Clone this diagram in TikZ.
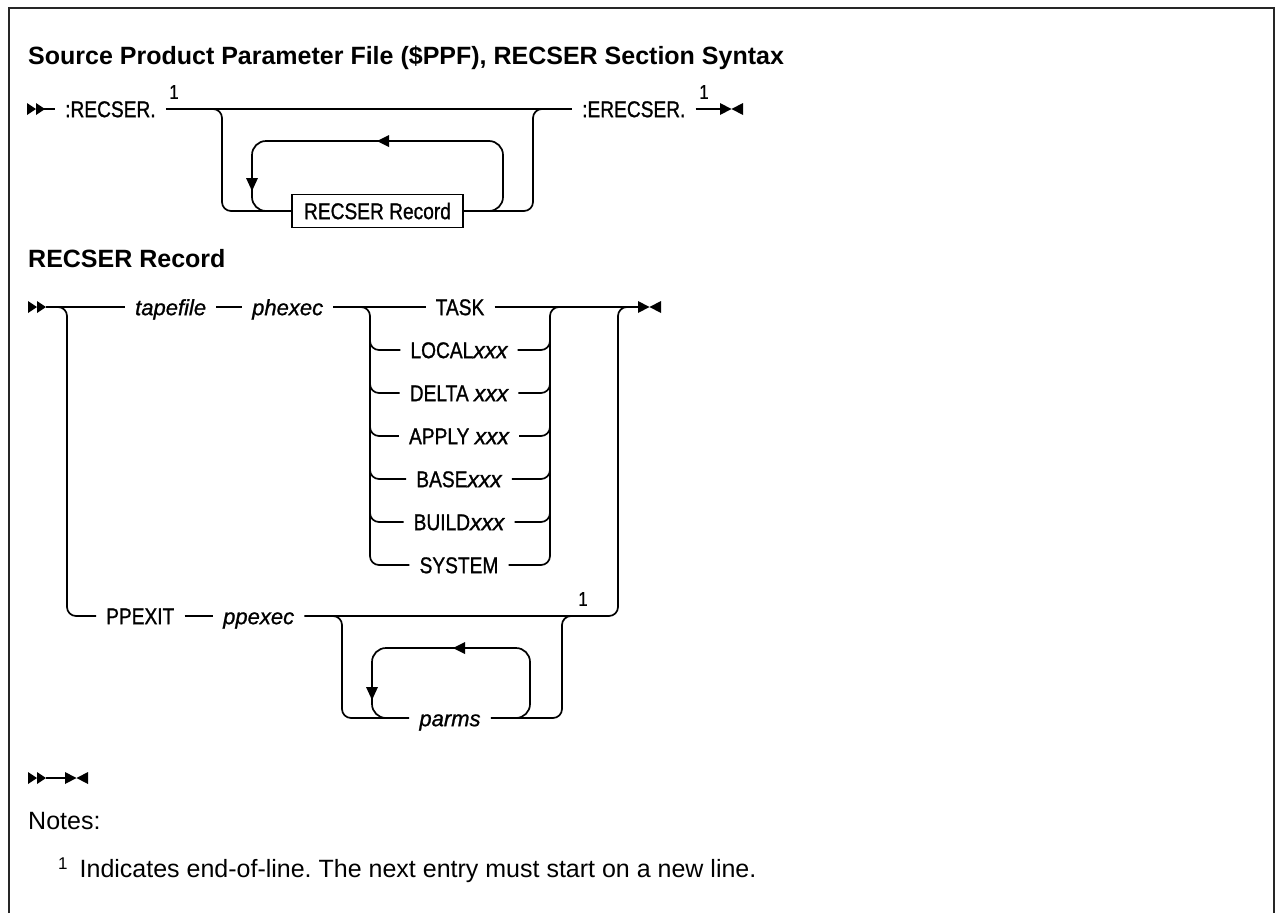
\documentclass[tikz,border=0pt]{standalone}
\usepackage{fontspec}
\setmainfont{Liberation Sans}
\newfontfamily\condfont[FakeStretch=0.84,FakeBold=1]{Liberation Sans}
\newfontfamily\itfont[FakeBold=1]{Liberation Sans Italic}
\newcommand\varit[1]{{\itfont #1}}
\frenchspacing
\begin{document}
\begin{tikzpicture}[x=1pt,y=-1pt,
  rr/.style={line width=1.7pt, rounded corners=9pt},
  loopline/.style={line width=1.7pt, rounded corners=14pt},
  kw/.style={font=\condfont\fontsize{22.8}{26}\selectfont, inner xsep=10pt, inner ysep=0pt, text height=16.3pt, text depth=0pt, anchor=west},
  vr/.style={font=\itfont\fontsize{22}{26}\selectfont, inner xsep=10pt, inner ysep=0pt, text height=16.3pt, text depth=0pt, anchor=west},
  sup/.style={font=\condfont\fontsize{20}{22}\selectfont, inner sep=0pt},
  headfont/.style={font=\bfseries\fontsize{25}{30}\selectfont, inner sep=0pt, anchor=base west},
  txt/.style={font=\fontsize{25}{30}\selectfont, inner sep=0pt, anchor=base west},
  startmark/.pic={\fill (0,-6) -- (9,0) -- (0,6) -- cycle; \fill (9,-6) -- (18,0) -- (9,6) -- cycle;},
  endmark/.pic={\fill (0,-6) -- (11.5,0) -- (0,6) -- cycle; \fill (23,-6) -- (11.5,0) -- (23,6) -- cycle;},
]
\useasboundingbox (0,0) rectangle (1276,913);
\fill[white] (0,0) rectangle (1276,913);
% frame
\draw[line width=2.5pt, black!85] (9,913) -- (9,8) -- (1274,8) -- (1274,913);

% titles
\node[headfont] (title) at (28,64) {Source Product Parameter File (\$PPF), RECSER Section Syntax};
\node[headfont] (head2) at (28,267) {RECSER Record};

% ---------- Row 1 ----------
\pic at (27,109) {startmark};
\coordinate (s1) at (44,109);
\node[kw] (recser) at (55,109) {:RECSER.};
\node[sup] (n1) at (174,92) {1};
\node[kw] (erecser) at (572,109) {:ERECSER.};
\node[sup] (n2) at (704,92) {1};
\coordinate (e1) at (720,109);
\pic at (720,109) {endmark};
\node[kw, draw, anchor=center, inner xsep=12pt, inner ysep=8.5pt, line width=1.5pt] (box) at (377.5,211) {RECSER Record};

\draw[line width=1.7pt] (s1) -- (recser.west);
\draw[line width=1.7pt] (recser.east) -- (erecser.west);
\draw[line width=1.7pt] (erecser.east) -- (e1);
\coordinate (a1) at (212,109); \coordinate (a2) at (222,109); \coordinate (a3) at (222,211);
\draw[rr] (a1) -- (a2) -- (a3) -- (box.west);
\coordinate (b1) at (533,211); \coordinate (b2) at (533,109); \coordinate (b3) at (543,109);
\draw[rr] (box.east) -- (b1) -- (b2) -- (b3);
\coordinate (l1) at (483,211); \coordinate (l2) at (503,211); \coordinate (l3) at (503,141);
\coordinate (l4) at (252,141); \coordinate (l5) at (252,211); \coordinate (l6) at (272,211);
\draw[loopline] (l1) -- (l2) -- (l3) -- (l4) -- (l5) -- (l6);
\fill (377,141) -- (389,135) -- (389,147) -- cycle;
\fill (246,178) -- (258,178) -- (252,191) -- cycle;

% ---------- Row 2 ----------
\pic at (28,307) {startmark};
\coordinate (s2) at (46,307);
\node[vr] (tapefile) at (125,307) {tapefile};
\node[vr] (phexec) at (242,307) {phexec};
\node[kw, anchor=center] (task) at (460,307) {TASK};
\node[kw, anchor=center] (local) at (459,350) {LOCAL\varit{xxx}};
\node[kw, anchor=center] (delta) at (459,393) {DELTA \varit{xxx}};
\node[kw, anchor=center] (apply) at (459,436) {APPLY \varit{xxx}};
\node[kw, anchor=center] (base) at (459,479) {BASE\varit{xxx}};
\node[kw, anchor=center] (build) at (459,522) {BUILD\varit{xxx}};
\node[kw, anchor=center] (system) at (459,565) {SYSTEM};
\coordinate (e2) at (638,307);
\pic at (638,307) {endmark};

\draw[line width=1.7pt] (s2) -- (tapefile.west);
\draw[line width=1.7pt] (tapefile.east) -- (phexec.west);
\draw[line width=1.7pt] (phexec.east) -- (task.west);
\draw[line width=1.7pt] (task.east) -- (e2);

% choice fork left / right
\coordinate (cl0) at (360,307); \coordinate (cl1) at (370,307); \coordinate (cl2) at (370,565);
\draw[rr] (cl0) -- (cl1) -- (cl2) -- (system.west);
\foreach \n/\y in {local/350,delta/393,apply/436,base/479,build/522}{
  \draw[rr] (370,\y-22) -- (370,\y) -- (\n.west);
  \draw[rr] (\n.east) -- (550,\y) -- (550,\y-22);
}
\coordinate (cr0) at (550,565); \coordinate (cr1) at (550,307); \coordinate (cr2) at (560,307);
\draw[rr] (system.east) -- (cr0) -- (cr1) -- (cr2);

% PPEXIT branch
\coordinate (p1) at (57,307); \coordinate (p2) at (67,307); \coordinate (p3) at (67,616);
\node[kw] (ppexit) at (96,616) {PPEXIT};
\node[vr] (ppexec) at (213,616) {ppexec};
\draw[rr] (p1) -- (p2) -- (p3) -- (ppexit.west);
\draw[line width=1.7pt] (ppexit.east) -- (ppexec.west);
\coordinate (q1) at (618,616); \coordinate (q2) at (618,307); \coordinate (q3) at (628,307);
\draw[rr] (ppexec.east) -- (q1) -- (q2) -- (q3);
\node[sup] (n3) at (583,599) {1};

% parms
\node[vr, anchor=center] (parms) at (450,718) {parms};
\coordinate (m1) at (332,616); \coordinate (m2) at (342,616); \coordinate (m3) at (342,718);
\draw[rr] (m1) -- (m2) -- (m3) -- (parms.west);
\coordinate (k1) at (562,718); \coordinate (k2) at (562,616); \coordinate (k3) at (572,616);
\draw[rr] (parms.east) -- (k1) -- (k2) -- (k3);
\coordinate (u1) at (517,718); \coordinate (u2) at (530,718); \coordinate (u3) at (530,648);
\coordinate (u4) at (372,648); \coordinate (u5) at (372,718); \coordinate (u6) at (386,718);
\draw[loopline] (u1) -- (u2) -- (u3) -- (u4) -- (u5) -- (u6);
\fill (453,648) -- (465,642) -- (465,654) -- cycle;
\fill (366,687) -- (378,687) -- (372,700) -- cycle;

% empty diagram
\pic at (28,778) {startmark};
\coordinate (s3) at (46,778); \coordinate (e3) at (65,778);
\draw[line width=1.7pt] (s3) -- (e3);
\pic at (65,778) {endmark};

% notes
\node[txt] (notes) at (28,829) {Notes:};
\node[txt] (fn) at (58,877) {\raisebox{8pt}{\fontsize{17}{17}\selectfont 1}\hspace{12pt}Indicates end-of-line. The next entry must start on a new line.};
\end{tikzpicture}
\end{document}
